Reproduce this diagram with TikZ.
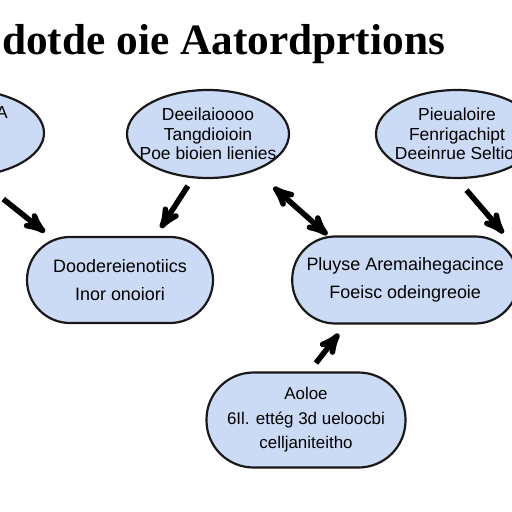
\documentclass[tikz,border=0pt]{standalone}
\usepackage{fontspec}
\setmainfont{Liberation Serif}
\setsansfont{Liberation Sans}
\usetikzlibrary{arrows,shapes.geometric,positioning}
\definecolor{bubblefill}{HTML}{CCDBF5}

\begin{document}
\begin{tikzpicture}[->,>=stealth',line width=5.5bp,x=1bp,y=-1bp,
                    font=\sffamily\fontsize{17.5}{19.5}\selectfont]
  \tikzstyle{bubble}=[ellipse,draw=black!90,fill=bubblefill,line width=2.2bp,
                      minimum width=162bp,minimum height=88bp,
                      inner xsep=-20bp,inner ysep=0pt,align=center]
  \tikzstyle{pill}=[rectangle,draw=black!90,fill=bubblefill,line width=2.2bp,
                    rounded corners=43bp,align=center]

  \useasboundingbox (0,0) rectangle (512,512);

  \node[anchor=base west,font=\rmfamily\bfseries\fontsize{43.5}{43.5}\selectfont]
       (title) at (-4,55) {dotde oie Aatordprtions};

  \node[bubble,minimum width=170bp] (lt) at (-41,133) {};
  \node (ltext) at (2,113) {A};
  \node[bubble] (pa) at (208,134) {Deeilaioooo\\Tangdioioin\\Poe bioien lienies};
  \node[bubble] (pb) at (457,134) {Pieualoire\\Fenrigachipt\\Deeinrue Seltiot};

  \node[pill,font=\sffamily\fontsize{18}{28}\selectfont,
        minimum width=186bp,minimum height=86bp] (dl) at (120,280)
       {Doodereienotiics\\Inor onoiori};
  \node[pill,font=\sffamily\fontsize{18}{28}\selectfont,
        minimum width=226bp,minimum height=87bp] (dr) [right=77bp of dl]
       {Pluyse Aremaihegacince\\Foeisc odeingreoie};
  \node[pill,font=\sffamily\fontsize{17}{24.5}\selectfont,rounded corners=47bp,
        minimum width=199bp,minimum height=95bp] (ac) at (306,420)
       {Aoloe\\6Il. ettég 3d ueloocbi\\celljaniteitho};

  \path (lt.-69) edge [shorten <=35bp,shorten >=6bp] (dl.148.5);
  \path (pa.-109) edge [shorten <=9bp,shorten >=9.5bp] (dl.51);
  \path (pa.-38) edge [<->,shorten <=24.6bp,shorten >=1bp] (dr.150.7);
  \path (pb.-90) edge [shorten <=14.6bp,shorten >=3bp] (dr.24);
  \path (ac.86.7) edge [shorten <=10.6bp,shorten >=11.8bp] (dr.-143);
\end{tikzpicture}
\end{document}
